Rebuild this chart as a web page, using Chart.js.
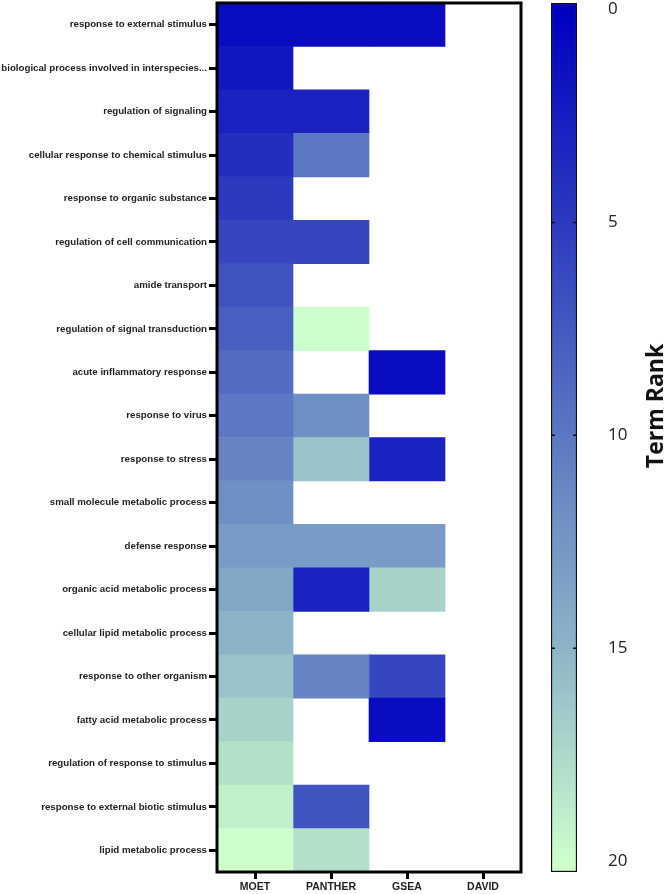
<!DOCTYPE html>
<html>
<head>
<meta charset="utf-8">
<script src="https://cdn.jsdelivr.net/npm/chart.js@4.4.1/dist/chart.umd.min.js"></script>
<style>
    html, body { margin: 0; padding: 0; background: #fff; }
    #wrap { position: relative; width: 666px; height: 894px; }
    #wrap canvas { position: absolute; left: 0; top: 0; }
</style>
</head>
<body>
<div id="wrap">
    <canvas id="heat" width="666" height="894"></canvas>
    <canvas id="cbar" width="666" height="894"></canvas>
</div>
<script>
const terms = [
    'response to external stimulus',
    'biological process involved in interspecies...',
    'regulation of signaling',
    'cellular response to chemical stimulus',
    'response to organic substance',
    'regulation of cell communication',
    'amide transport',
    'regulation of signal transduction',
    'acute inflammatory response',
    'response to virus',
    'response to stress',
    'small molecule metabolic process',
    'defense response',
    'organic acid metabolic process',
    'cellular lipid metabolic process',
    'response to other organism',
    'fatty acid metabolic process',
    'regulation of response to stimulus',
    'response to external biotic stimulus',
    'lipid metabolic process'
];
const methods = ['MOET', 'PANTHER', 'GSEA', 'DAVID'];

// term rank per method (null = term not reported)
const moetRank = [1, 2, 3, 4, 5, 6, 7, 8, 9, 10, 11, 12, 13, 14, 15, 16, 17, 18, 19, 20];
const pantherRank = [1, null, 3, 10, null, 6, null, 20, null, 12, 16, null, 13, 3, null, 11, null, null, 7, 18];
const gseaRank = [1, null, null, null, null, null, null, null, 1, null, 3, null, 13, 17, null, 6, 1, null, null, null];
const davidRank = [null, null, null, null, null, null, null, null, null, null, null, null, null, null, null, null, null, null, null, null];

const rankTicks = [0, 5, 10, 15, 20];
const rankStops = [0, 5, 10, 15, 20];
const stopColors = [[0, 0, 192], [44, 58, 192], [92, 120, 194], [140, 180, 200], [204, 255, 204]];

const rgb = c => `rgb(${c[0]}, ${c[1]}, ${c[2]})`;

function rankColor(v) {
    if (v == null) return 'rgba(0,0,0,0)';
    for (let i = 1; i < rankStops.length; i++) {
        if (v <= rankStops[i]) {
            const t = (v - rankStops[i - 1]) / (rankStops[i] - rankStops[i - 1]);
            const a = stopColors[i - 1], b = stopColors[i];
            return rgb(a.map((x, k) => Math.round(x + (b[k] - x) * t)));
        }
    }
    return rgb(stopColors[stopColors.length - 1]);
}

const rankSeries = [moetRank, pantherRank, gseaRank, davidRank];

const framePlugin = {
    id: 'frame',
    afterDatasetsDraw(chart) {
        const { ctx, chartArea: a } = chart;
        ctx.save();
        ctx.lineWidth = 3;
        ctx.strokeStyle = '#000';
        ctx.strokeRect(a.left, a.top, a.right - a.left, a.bottom - a.top);
        ctx.restore();
    }
};

new Chart(document.getElementById('heat'), {
    type: 'bar',
    data: {
        labels: terms,
        datasets: rankSeries.map((ranks, j) => ({
            label: methods[j],
            data: ranks.map(r => (r == null ? null : [j - 0.5, j + 0.5])),
            backgroundColor: ctx => rankColor(ranks[ctx.dataIndex]),
            borderWidth: 0,
            barPercentage: 1,
            categoryPercentage: 1,
            grouped: false
        }))
    },
    options: {
        indexAxis: 'y',
        responsive: false,
        animation: false,
        layout: { padding: { top: 3, right: 145, left: 0, bottom: 0 } },
        plugins: { legend: { display: false }, tooltip: { enabled: false } },
        scales: {
            y: {
                type: 'category',
                offset: true,
                grid: { offset: false, drawOnChartArea: false, tickLength: 8, tickWidth: 3, color: '#000' },
                border: { display: false },
                ticks: {
                    autoSkip: false,
                    padding: 2,
                    color: '#222',
                    font: { family: 'Liberation Sans', weight: 'bold', size: 9.7 }
                },
                afterFit: s => { s.width = 217; s.paddingTop = 0; s.paddingBottom = 0; }
            },
            x: {
                type: 'linear',
                min: -0.5,
                max: 3.5,
                afterBuildTicks: s => { s.ticks = methods.map((m, i) => ({ value: i })); },
                grid: { drawOnChartArea: false, tickLength: 7, tickWidth: 3, color: '#000' },
                border: { display: false },
                ticks: {
                    autoSkip: false,
                    maxRotation: 0,
                    padding: 2,
                    color: '#222',
                    font: { family: 'Liberation Sans', weight: 'bold', size: 10.5 },
                    callback: v => methods[v]
                },
                afterFit: s => { s.height = 22; }
            }
        }
    },
    plugins: [framePlugin]
});

// colour bar
const cbMin = -0.15, cbMax = 20.25;

const cbarDecor = {
    id: 'cbarDecor',
    afterDatasetsDraw(chart) {
        const { ctx, chartArea: a } = chart;
        const ys = chart.scales.y;
        ctx.save();
        ctx.strokeStyle = '#111';
        ctx.lineWidth = 1.5;
        rankTicks.slice(1, -1).forEach(v => {
            const y = ys.getPixelForValue(v);
            ctx.beginPath();
            ctx.moveTo(a.left, y); ctx.lineTo(a.left + 4, y);
            ctx.moveTo(a.right, y); ctx.lineTo(a.right - 4, y);
            ctx.stroke();
        });
        ctx.translate(663, 406);
        ctx.rotate(-Math.PI / 2);
        ctx.font = 'bold 23px "Open Sans"';
        ctx.textAlign = 'center';
        ctx.textBaseline = 'alphabetic';
        ctx.fillStyle = '#111';
        ctx.fillText('Term Rank', 0, 0);
        ctx.restore();
    }
};

new Chart(document.getElementById('cbar'), {
    type: 'bar',
    data: {
        labels: ['rank'],
        datasets: [{
            data: [[cbMin, cbMax]],
            backgroundColor: ctx => {
                const chart = ctx.chart;
                const ys = chart.scales.y;
                if (!chart.chartArea || !ys) return rgb(stopColors[0]);
                const y0 = ys.getPixelForValue(rankStops[0]);
                const y1 = ys.getPixelForValue(rankStops[rankStops.length - 1]);
                if (!isFinite(y0) || !isFinite(y1)) return rgb(stopColors[0]);
                const g = chart.ctx.createLinearGradient(0, y0, 0, y1);
                const span = rankStops[rankStops.length - 1] - rankStops[0];
                rankStops.forEach((s, i) => g.addColorStop((s - rankStops[0]) / span, rgb(stopColors[i])));
                return g;
            },
            borderColor: '#111',
            borderWidth: 1.5,
            borderSkipped: false,
            barPercentage: 1,
            categoryPercentage: 1
        }]
    },
    options: {
        responsive: false,
        animation: false,
        layout: { padding: { left: 551, top: 3, bottom: 22, right: 0 } },
        plugins: { legend: { display: false }, tooltip: { enabled: false } },
        scales: {
            x: { display: false },
            y: {
                position: 'right',
                reverse: true,
                min: cbMin,
                max: cbMax,
                afterBuildTicks: s => { s.ticks = rankTicks.map(v => ({ value: v })); },
                grid: { display: false, drawTicks: false },
                border: { display: false },
                ticks: { padding: 31, color: '#222', font: { family: 'Open Sans', size: 17 } },
                afterFit: s => { s.width = 89; s.paddingTop = 0; s.paddingBottom = 0; }
            }
        }
    },
    plugins: [cbarDecor]
});
</script>
</body>
</html>
